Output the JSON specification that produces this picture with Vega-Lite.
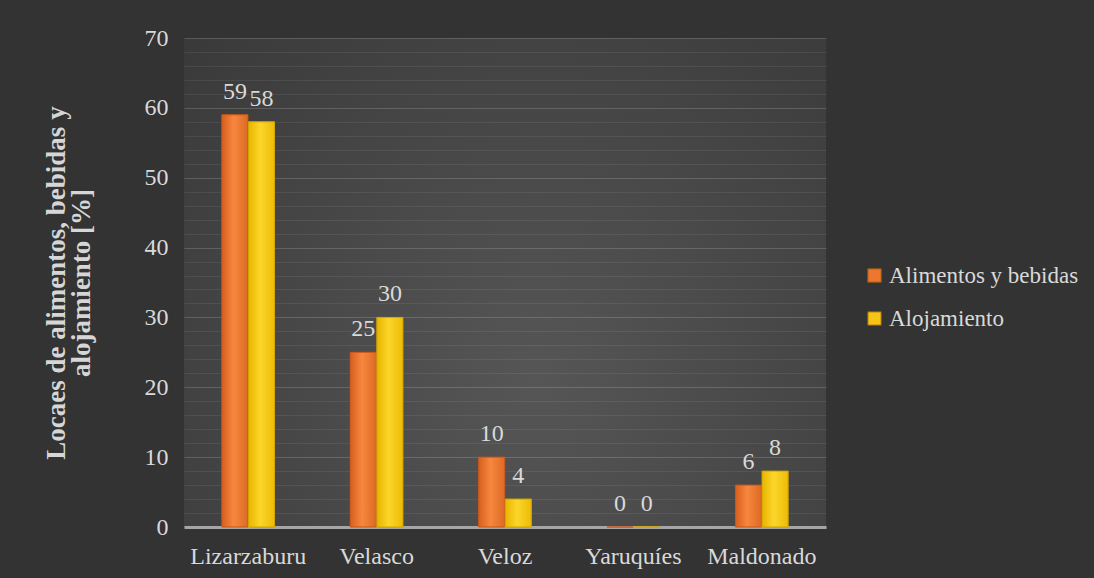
{
  "$schema": "https://vega.github.io/schema/vega-lite/v6.json",
  "autosize": {"type": "none"},
  "width": 642,
  "height": 489,
  "padding": {"left": 184, "top": 38, "right": 268, "bottom": 51},
  "background": "#333333",
  "data": {
    "values": [
      {"zona": "Lizarzaburu", "serie": "Alimentos y bebidas", "valor": 59},
      {"zona": "Lizarzaburu", "serie": "Alojamiento", "valor": 58},
      {"zona": "Velasco", "serie": "Alimentos y bebidas", "valor": 25},
      {"zona": "Velasco", "serie": "Alojamiento", "valor": 30},
      {"zona": "Veloz", "serie": "Alimentos y bebidas", "valor": 10},
      {"zona": "Veloz", "serie": "Alojamiento", "valor": 4},
      {"zona": "Yaruquíes", "serie": "Alimentos y bebidas", "valor": 0},
      {"zona": "Yaruquíes", "serie": "Alojamiento", "valor": 0},
      {"zona": "Maldonado", "serie": "Alimentos y bebidas", "valor": 6},
      {"zona": "Maldonado", "serie": "Alojamiento", "valor": 8}
    ]
  },
  "encoding": {
    "x": {
      "field": "zona", "type": "nominal", "sort": null,
      "scale": {"paddingInner": 0.59, "paddingOuter": 0.295},
      "axis": {
        "title": null, "labelAngle": 0, "ticks": false,
        "labelFont": "Liberation Serif, Times New Roman, serif", "labelFontSize": 24, "labelColor": "#d9d9d9",
        "labelPadding": 17,
        "domainColor": "#a6a6a6", "domainWidth": 3, "grid": false
      }
    },
    "xOffset": {"field": "serie", "type": "nominal", "scale": {"paddingInner": 0.02}},
    "y": {
      "field": "valor", "type": "quantitative",
      "scale": {"domain": [0, 70], "nice": false},
      "axis": {
        "values": [0, 2, 4, 6, 8, 10, 12, 14, 16, 18, 20, 22, 24, 26, 28, 30, 32, 34, 36, 38, 40, 42, 44, 46, 48, 50, 52, 54, 56, 58, 60, 62, 64, 66, 68, 70],
        "labelExpr": "datum.value % 10 === 0 ? datum.label : ''",
        "domain": false, "ticks": false,
        "labelFont": "Liberation Serif, Times New Roman, serif", "labelFontSize": 24, "labelColor": "#d9d9d9",
        "labelPadding": 16,
        "grid": true,
        "gridColor": {"condition": {"test": "datum.value % 10 === 0", "value": "rgba(255,255,255,0.16)"}, "value": "rgba(255,255,255,0.07)"},
        "gridWidth": 1,
        "title": ["Locaes  de alimentos, bebidas y", "alojamiento [%]"],
        "titleFont": "Liberation Serif, Times New Roman, serif", "titleFontSize": 27, "titleFontWeight": "bold",
        "titleColor": "#d6d6d6", "titleLineHeight": 25,
        "titleX": -114, "titleBaseline": "bottom"
      }
    }
  },
  "layer": [
    {
      "mark": {"type": "bar"},
      "encoding": {
        "color": {
          "field": "serie", "type": "nominal",
          "scale": {"range": ["#ee7630", "#f5c414"]},
          "legend": {
            "title": null, "orient": "none", "legendX": 679, "legendY": 226,
            "symbolType": "square", "symbolSize": 180, "symbolStrokeWidth": 1,
            "symbolStrokeColor": "#8a5a10",
            "labelFont": "Liberation Serif, Times New Roman, serif", "labelFontSize": 23, "labelColor": "#d9d9d9",
            "labelOffset": 3, "rowPadding": 19, "labelLimit": 400
          }
        }
      }
    },
    {
      "transform": [{"filter": "datum.serie === 'Alimentos y bebidas'"}],
      "mark": {
        "type": "bar", "stroke": "#c9561a", "strokeWidth": 1,
        "fill": {"gradient": "linear", "x1": 0, "y1": 0, "x2": 1, "y2": 0,
          "stops": [{"offset": 0, "color": "#d85e1e"}, {"offset": 0.45, "color": "#f7873e"}, {"offset": 1, "color": "#dc6a24"}]}
      }
    },
    {
      "transform": [{"filter": "datum.serie === 'Alojamiento'"}],
      "mark": {
        "type": "bar", "stroke": "#d3a500", "strokeWidth": 1,
        "fill": {"gradient": "linear", "x1": 0, "y1": 0, "x2": 1, "y2": 0,
          "stops": [{"offset": 0, "color": "#e9b400"}, {"offset": 0.45, "color": "#fbd62a"}, {"offset": 1, "color": "#ecbc06"}]}
      }
    },
    {
      "mark": {"type": "text", "dy": -16, "baseline": "alphabetic", "font": "Liberation Serif, Times New Roman, serif", "fontSize": 24, "color": "#d9d9d9"},
      "encoding": {"text": {"field": "valor", "type": "quantitative"}}
    }
  ],
  "config": {
    "view": {
      "stroke": null,
      "fill": {"gradient": "radial", "x1": 0.55, "y1": 0.65, "r1": 0, "x2": 0.55, "y2": 0.65, "r2": 0.8,
        "stops": [{"offset": 0, "color": "#565656"}, {"offset": 1, "color": "#383838"}]}
    }
  }
}
